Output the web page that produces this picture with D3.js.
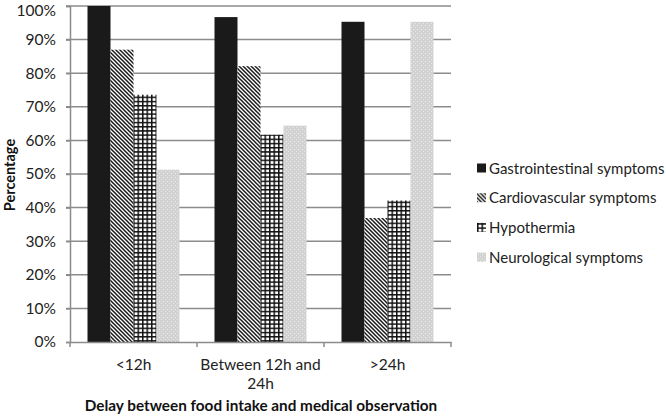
<!DOCTYPE html>
<html><head><meta charset="utf-8">
<script src="https://cdn.jsdelivr.net/npm/d3@7"></script>
<style>body{margin:0;background:#fff;} svg{display:block;font-family:Lato, "Open Sans", sans-serif;}</style>
</head><body>
<svg id="chart" width="666" height="416"></svg>
<script>
const categories = [["<12h"], ["Between 12h and", "24h"], [">24h"]];
const categoryKeys = ["<12h", "Between 12h and 24h", ">24h"];
const seriesNames = ["Gastrointestinal symptoms", "Cardiovascular symptoms", "Hypothermia", "Neurological symptoms"];
const gastro = [100, 96.7, 95.3];
const cardio = [87, 82.1, 36.9];
const hypo = [73.6, 61.7, 42.1];
const neuro = [51.3, 64.4, 95.3];
const yTicks = [0,10,20,30,40,50,60,70,80,90,100];
const seriesValues = [gastro, cardio, hypo, neuro];

const svg = d3.select("#chart");
const defs = svg.append("defs");
// patterns
const pC = defs.append("pattern").attr("id","pCardio").attr("patternUnits","userSpaceOnUse").attr("width",4).attr("height",4);
pC.append("rect").attr("width",4).attr("height",4).attr("fill","#fff");
pC.append("path").attr("d","M-1,-1 L5,5 M-1,3 L1,5 M3,-1 L5,1").attr("stroke","#1a1a1a").attr("stroke-width",1.5);
const pH = defs.append("pattern").attr("id","pHypo").attr("patternUnits","userSpaceOnUse").attr("width",4.5).attr("height",4.2);
pH.append("rect").attr("width",4.5).attr("height",4.2).attr("fill","#fff");
pH.append("path").attr("d","M0.75,0 V4.2 M0,0.75 H4.5").attr("stroke","#111").attr("stroke-width",1.5);
const pN = defs.append("pattern").attr("id","pNeuro").attr("patternUnits","userSpaceOnUse").attr("width",4).attr("height",4);
pN.append("rect").attr("width",4).attr("height",4).attr("fill","#d2d2d2");
pN.append("rect").attr("x",1).attr("y",1).attr("width",1).attr("height",1).attr("fill","#eeeeee");
pN.append("rect").attr("x",3).attr("y",3).attr("width",1).attr("height",1).attr("fill","#e6e6e6");
const fills = ["#1a1a1a", "url(#pCardio)", "url(#pHypo)", "url(#pNeuro)"];

const m = {left:70, top:6, right:451, bottom:342};
const x0 = d3.scaleBand().domain(categoryKeys).range([m.left, m.right]).paddingInner(0).paddingOuter(0);
const x1 = d3.scaleBand().domain(d3.range(4)).range([17.5, x0.bandwidth()-17.5]);
const y = d3.scaleLinear().domain([0,100]).range([m.bottom, m.top]);

// gridlines
svg.append("g").selectAll("line").data(yTicks.filter(d=>d>0)).join("line")
  .attr("x1", m.left-4).attr("x2", m.right).attr("y1", d=>y(d)).attr("y2", d=>y(d))
  .attr("stroke","#8c8c8c").attr("stroke-width",1.5);

// y axis
const yAxis = svg.append("g").attr("transform",`translate(${m.left},0)`)
  .call(d3.axisLeft(y).tickValues(yTicks).tickFormat(d=>d+"%").tickSize(4).tickPadding(10));
yAxis.select(".domain").attr("stroke","#8c8c8c").attr("stroke-width",1.5);
yAxis.selectAll(".tick line").attr("stroke","#8c8c8c").attr("stroke-width",1.5);
yAxis.selectAll("text").attr("font-size",15.5).attr("fill","#222").attr("font-family","Lato, sans-serif");
yAxis.selectAll(".tick").filter(d=>d===100).select("text").attr("dy","0.6em");

// bars
const groups = svg.append("g").selectAll("g").data(categoryKeys).join("g")
  .attr("transform", d=>`translate(${x0(d)},0)`);
groups.selectAll("rect").data((d,i)=>seriesValues.map((s,j)=>({j, v:s[i]}))).join("rect")
  .attr("x", d=>x1(d.j)).attr("width", x1.bandwidth())
  .attr("y", d=>y(d.v)).attr("height", d=>y(0)-y(d.v))
  .attr("fill", d=>fills[d.j]);

// x axis
const xAxis = svg.append("g").attr("transform",`translate(0,${m.bottom})`)
  .call(d3.axisBottom(x0).tickSize(0).tickFormat(""));
xAxis.select(".domain").attr("stroke","#8c8c8c").attr("stroke-width",1.5);
const bounds = [m.left, ...categoryKeys.map(c=>x0(c)+x0.bandwidth())];
svg.append("g").selectAll("line").data(bounds).join("line")
  .attr("x1",d=>d).attr("x2",d=>d).attr("y1",m.bottom).attr("y2",m.bottom+5)
  .attr("stroke","#8c8c8c").attr("stroke-width",1.5);
svg.append("g").selectAll("text").data(categories).join("text")
  .attr("x",(d,i)=>x0(categoryKeys[i])+x0.bandwidth()/2)
  .attr("y",370).attr("text-anchor","middle").attr("font-size",15.5).attr("fill","#222")
  .selectAll("tspan").data(d=>d).join("tspan")
  .attr("x",function(){return this.parentNode.getAttribute("x");})
  .attr("dy",(d,i)=>i===0?0:19).text(d=>d);

// axis titles
svg.append("text").attr("x",261).attr("y",411).attr("text-anchor","middle")
  .attr("font-size",15.3).attr("font-weight","bold").attr("fill","#111")
  .text("Delay between food intake and medical observation");
svg.append("text").attr("transform","translate(15,175) rotate(-90)").attr("text-anchor","middle")
  .attr("font-size",14.5).attr("font-weight","bold").attr("fill","#111").text("Percentage");

// legend
const leg = svg.append("g").selectAll("g").data(seriesNames).join("g")
  .attr("transform",(d,i)=>`translate(477,${168 + i*29.7})`);
leg.append("rect").attr("x",0).attr("y",-4.5).attr("width",9).attr("height",9).attr("fill",(d,i)=>fills[i]);
leg.append("text").attr("x",12).attr("y",5.5).attr("font-size",15).attr("fill","#222").text(d=>d);
</script>
</body></html>
